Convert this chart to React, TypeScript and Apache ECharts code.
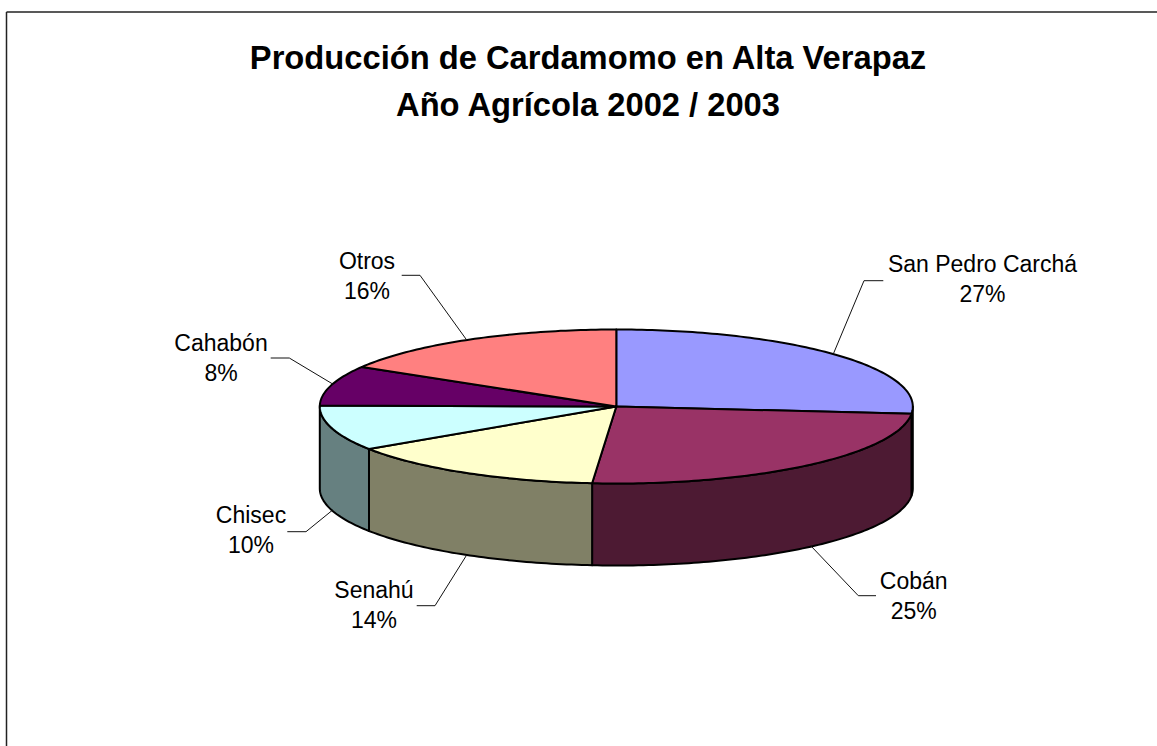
import React, { useEffect, useRef } from "react";
import * as echarts from "echarts";

const titleLines = ["Producción de Cardamomo en Alta Verapaz", "Año Agrícola 2002 / 2003"];
const municipios = ["San Pedro Carchá", "Cobán", "Senahú", "Chisec", "Cahabón", "Otros"];
const shares = [26.5, 24.8, 14.4, 9.5, 8.4, 16.4];
const topColors = ["#9999FF", "#993366", "#FFFFCC", "#CCFFFF", "#660066", "#FF8080"];
const sideColors = ["#4D4D80", "#4D1A33", "#808066", "#668080", "#330033", "#804040"];

// Layout only: ellipse geometry and the position of each label and its leader line.
const pie = { cx: 616.3, cy: 406.5, rx: 296.5, ry: 77, depth: 82 };
const labelCenters = [
  [982.5, 279],
  [913.7, 596],
  [374, 605],
  [251, 530],
  [221, 358],
  [367, 276],
];
const leaders = [
  [[883.3, 280.7], [864, 280.7], [833.3, 354]],
  [[876, 595.7], [858.3, 595.7], [810.7, 545.7]],
  [[416.7, 605.7], [435, 605.7], [466.7, 555]],
  [[287.3, 531.7], [306, 531.7], [332.7, 510]],
  [[270.7, 358], [289.3, 358], [332.7, 384]],
  [[401.7, 275.3], [420, 275.3], [466.7, 340]],
];

const total = shares.reduce((a, b) => a + b, 0);
const sliceRange = (i: number): [number, number] => {
  const before = shares.slice(0, i).reduce((a, b) => a + b, 0);
  return [(before / total) * 360, ((before + shares[i]) / total) * 360];
};
const rim = (deg: number, dy = 0): number[] => {
  const t = (deg * Math.PI) / 180;
  return [pie.cx + pie.rx * Math.sin(t), pie.cy - pie.ry * Math.cos(t) + dy];
};
const arc = (a: number, b: number, dy = 0): number[][] => {
  const steps = Math.max(2, Math.ceil(Math.abs(b - a)));
  const pts: number[][] = [];
  for (let k = 0; k <= steps; k++) pts.push(rim(a + ((b - a) * k) / steps, dy));
  return pts;
};

const edge = { stroke: "#000", lineWidth: 2, lineJoin: "round" as const };
const font = "'Liberation Sans', Arial, sans-serif";
const seriesData = municipios.map((name, i) => ({ name, value: shares[i] }));

export default function App() {
  const ref = useRef<HTMLDivElement>(null);
  useEffect(() => {
    document.body.style.margin = "0";
    const chart = echarts.init(ref.current!, null, { renderer: "svg" });
    chart.setOption({
      animation: false,
      backgroundColor: "#fff",
      title: {
        text: titleLines.join("\n"),
        left: 583,
        top: 29,
        textAlign: "center",
        textStyle: { fontFamily: font, fontWeight: "bold", fontSize: 32.7, lineHeight: 47, color: "#000" },
      },
      graphic: [
        { type: "line", shape: { x1: 6.5, y1: 12, x2: 1157, y2: 12 }, style: { stroke: "#222", lineWidth: 1.5 } },
        { type: "line", shape: { x1: 6.5, y1: 12, x2: 6.5, y2: 746 }, style: { stroke: "#222", lineWidth: 1.5 } },
      ],
      series: [
        {
          type: "custom",
          name: "walls",
          coordinateSystem: "none",
          silent: true,
          data: seriesData,
          z: 1,
          renderItem: (p: any) => {
            const [s, e] = sliceRange(p.dataIndex);
            const a = Math.max(s, 90);
            const b = Math.min(e, 270);
            if (a >= b) return null;
            return {
              type: "polygon",
              shape: { points: [...arc(a, b), ...arc(b, a, pie.depth)] },
              style: { fill: sideColors[p.dataIndex], ...edge },
            };
          },
        },
        {
          type: "custom",
          name: "tops",
          coordinateSystem: "none",
          silent: true,
          data: seriesData,
          z: 2,
          renderItem: (p: any) => {
            const [s, e] = sliceRange(p.dataIndex);
            return {
              type: "polygon",
              shape: { points: [[pie.cx, pie.cy], ...arc(s, e)] },
              style: { fill: topColors[p.dataIndex], ...edge },
            };
          },
        },
        {
          type: "custom",
          name: "labels",
          coordinateSystem: "none",
          silent: true,
          data: seriesData,
          z: 3,
          renderItem: (p: any) => {
            const i = p.dataIndex;
            return {
              type: "group",
              children: [
                {
                  type: "polyline",
                  shape: { points: leaders[i] },
                  style: { stroke: "#111", lineWidth: 1, fill: "none" },
                },
                {
                  type: "text",
                  x: labelCenters[i][0],
                  y: labelCenters[i][1],
                  style: {
                    text: `${municipios[i]}\n${Math.round((shares[i] / total) * 100)}%`,
                    fill: "#000",
                    font: `23px ${font}`,
                    lineHeight: 30,
                    align: "center",
                    verticalAlign: "middle",
                  },
                },
              ],
            };
          },
        },
      ],
    });
    return () => chart.dispose();
  }, []);
  return <div ref={ref} style={{ width: 1157, height: 746, overflow: "hidden" }} />;
}
